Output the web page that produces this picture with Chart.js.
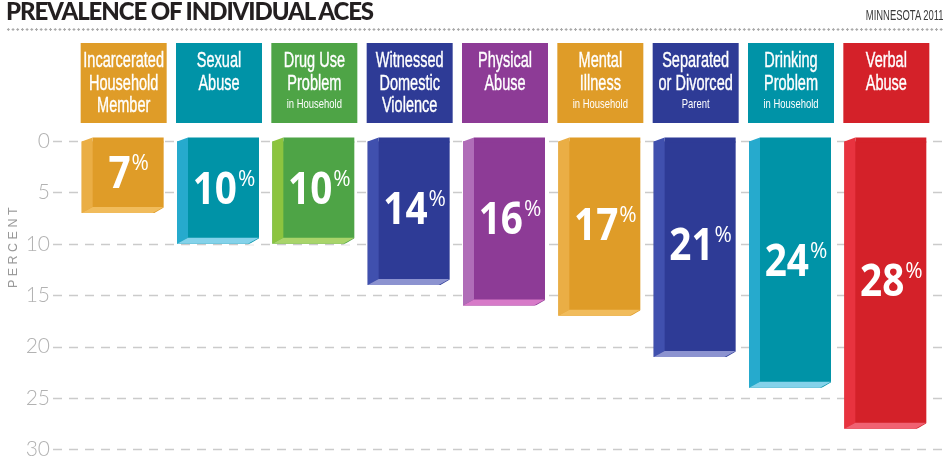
<!DOCTYPE html>
<html>
<head>
<meta charset="utf-8">
<script src="https://cdn.jsdelivr.net/npm/chart.js@4"></script>
<style>
  html, body { margin: 0; padding: 0; background: #fff; }
  #wrap { position: relative; width: 943px; height: 462px; overflow: hidden; }
  #chart { position: absolute; left: 0; top: 0; }
  .title { position: absolute; left: 6px; top: -4px; font: 900 24px Lato, sans-serif; color: #231f20; letter-spacing: -1.1px; white-space: nowrap; }
  .place { position: absolute; right: -1px; top: 7px; font: 14.5px "Liberation Sans", sans-serif; color: #3a3a3a; transform: scaleX(0.65); transform-origin: right top; white-space: nowrap; }
  .dots { position: absolute; left: 6px; right: 0; top: 28px; height: 3px; background-image: radial-gradient(circle, #a9a9a9 1px, transparent 1.4px); background-size: 4.7px 3px; }
  .ytitle { position: absolute; left: -37px; top: 239px; width: 100px; text-align: center; font: 12.5px "Liberation Sans", sans-serif; color: #999; letter-spacing: 3.5px; transform: rotate(-90deg); white-space: nowrap; }
</style>
</head>
<body>
<div id="wrap">
  <canvas id="chart" width="943" height="462"></canvas>
  <div class="title">PREVALENCE OF INDIVIDUAL ACES</div>
  <div class="place">MINNESOTA 2011</div>
  <div class="dots"></div>
  <div class="ytitle">PERCENT</div>
</div>
<script>
'use strict';

// カテゴリ（見出しの行ごと）
var categories = [
  ["Incarcerated", "Household", "Member"],
  ["Sexual", "Abuse"],
  ["Drug Use", "Problem"],
  ["Witnessed", "Domestic", "Violence"],
  ["Physical", "Abuse"],
  ["Mental", "Illness"],
  ["Separated", "or Divorced"],
  ["Drinking", "Problem"],
  ["Verbal", "Abuse"]
];
var categoryNotes = ["", "", "in Household", "", "", "in Household", "Parent", "in Household", ""];
var percents = [7, 10, 10, 14, 16, 17, 21, 24, 28];
var percentTicks = [0, 5, 10, 15, 20, 25, 30];

// 色
var barColors  = ["#df9c28", "#0093a7", "#4ea446", "#2e3b96", "#8d3b96", "#df9c28", "#2e3b96", "#0093a7", "#d42129"];
var sideColors = ["#eaae45", "#26aacd", "#8cc43f", "#4050ae", "#b06db8", "#eaae45", "#4050ae", "#26aacd", "#e8333f"];
var slabColors = ["#f1bc5c", "#84d2ea", "#a9d46a", "#8c93d0", "#d77ac8", "#f1bc5c", "#8c93d0", "#84d2ea", "#f06272"];

function squeezeText(ctx, text, x, y, sx) {
  ctx.save();
  ctx.translate(x, y);
  ctx.scale(sx, 1);
  ctx.fillText(text, 0, 0);
  ctx.restore();
}

// 破線の目盛り線（y軸の目盛りから）
var dashedGrid = {
  id: "dashedGrid",
  beforeDatasetsDraw: function (chart) {
    var ctx = chart.ctx;
    var yScale = chart.scales.y;
    ctx.save();
    ctx.strokeStyle = "#cbcbcb";
    ctx.lineWidth = 1.5;
    ctx.setLineDash([9, 7]);
    yScale.ticks.forEach(function (t) {
      var y = Math.round(yScale.getPixelForValue(t.value)) + 0.5;
      ctx.beginPath();
      ctx.moveTo(chart.chartArea.left - 22, y);
      ctx.lineTo(chart.width, y);
      ctx.stroke();
    });
    ctx.restore();
  }
};

// 見出しボックス
var headerBoxes = {
  id: "headerBoxes",
  afterDraw: function (chart) {
    var ctx = chart.ctx;
    var xScale = chart.scales.x;
    categories.forEach(function (lines, i) {
      var cx = xScale.getPixelForValue(i) + 1;
      ctx.save();
      ctx.fillStyle = barColors[i];
      ctx.fillRect(cx - 43, 43, 86, 80);
      ctx.fillStyle = "#fff";
      ctx.strokeStyle = "#fff";
      ctx.lineWidth = 0.4;
      ctx.textAlign = "center";
      ctx.textBaseline = "alphabetic";
      ctx.font = '22px "Liberation Sans"';
      lines.forEach(function (line, j) {
        ctx.save();
        ctx.translate(cx, 67 + j * 22.7);
        ctx.scale(0.66, 1);
        ctx.fillText(line, 0, 0);
        ctx.strokeText(line, 0, 0);
        ctx.restore();
      });
      if (categoryNotes[i]) {
        ctx.font = '13.5px "Liberation Sans"';
        squeezeText(ctx, categoryNotes[i], cx, 108, 0.7);
      }
      ctx.restore();
    });
  }
};

// 立体感と数値ラベル
var barDepth = {
  id: "barDepth",
  afterDatasetsDraw: function (chart) {
    var ctx = chart.ctx;
    var meta = chart.getDatasetMeta(0);
    var sx = 11, lift = 4, dy = 6;
    meta.data.forEach(function (bar, i) {
      var left = bar.x - bar.width / 2;
      var right = bar.x + bar.width / 2;
      var top = Math.min(bar.y, bar.base);
      var bottom = Math.max(bar.y, bar.base);
      ctx.save();
      // 右下の角を落とす
      ctx.fillStyle = "#fff";
      ctx.beginPath();
      ctx.moveTo(right + 1, bottom - dy);
      ctx.lineTo(right + 1, bottom + 1);
      ctx.lineTo(right - sx, bottom + 1);
      ctx.closePath();
      ctx.fill();
      // 前面の上端
      ctx.fillStyle = barColors[i];
      ctx.fillRect(left + sx, top - lift, right - left - sx, lift + 1);
      // 側面
      ctx.fillStyle = sideColors[i];
      ctx.beginPath();
      ctx.moveTo(left, top);
      ctx.lineTo(left + sx, top - lift);
      ctx.lineTo(left + sx, bottom - dy);
      ctx.lineTo(left, bottom);
      ctx.closePath();
      ctx.fill();
      // 底面
      ctx.fillStyle = slabColors[i];
      ctx.beginPath();
      ctx.moveTo(left, bottom);
      ctx.lineTo(left + sx, bottom - dy);
      ctx.lineTo(right, bottom - dy);
      ctx.lineTo(right - sx, bottom);
      ctx.closePath();
      ctx.fill();

      // 数値
      var cx = left + sx + (right - left - sx) / 2;
      var cy = (top + bottom) / 2 - 5;
      var num = String(percents[i]);
      ctx.fillStyle = "#fff";
      ctx.textAlign = "left";
      ctx.textBaseline = "alphabetic";
      ctx.font = 'bold 45px "Open Sans"';
      var wn = ctx.measureText(num).width * 0.86;
      ctx.font = '21px "Open Sans"';
      var wp = ctx.measureText("%").width;
      var start = cx - (wn + wp) / 2;
      ctx.font = 'bold 45px "Open Sans"';
      squeezeText(ctx, num, start, cy + 16, 0.86);
      ctx.font = '21px "Open Sans"';
      ctx.fillText("%", start + wn + 1, cy - 2);
      ctx.restore();
    });
  }
};

var ctx = document.getElementById("chart").getContext("2d");

var aceChart = new Chart(ctx, {
  type: "bar",
  data: {
    labels: categories.map(function (l, i) { return l.join(" ") + (categoryNotes[i] ? " " + categoryNotes[i] : ""); }),
    datasets: [
      {
        data: percents,
        backgroundColor: barColors,
        borderWidth: 0,
        barPercentage: 0.86,
        categoryPercentage: 1
      }
    ]
  },
  options: {
    responsive: false,
    animation: false,
    layout: { padding: { top: 141, bottom: 11, right: 10, left: 0 } },
    plugins: {
      legend: { display: false },
      tooltip: { enabled: false }
    },
    scales: {
      x: {
        display: false,
        grid: { display: false }
      },
      y: {
        reverse: true,
        min: 0,
        max: 30,
        afterFit: function (scale) { scale.width = 75; },
        afterBuildTicks: function (scale) {
          scale.ticks = percentTicks.map(function (v) { return { value: v }; });
        },
        ticks: {
          padding: 0,
          color: "#b2b2b2",
          font: { family: "Lato", size: 21, weight: 300 }
        },
        // 線は dashedGrid で描くので透明
        grid: {
          color: "rgba(0,0,0,0)",
          tickColor: "rgba(0,0,0,0)",
          drawTicks: true,
          tickLength: 25
        },
        border: { display: false }
      }
    }
  },
  plugins: [dashedGrid, headerBoxes, barDepth]
});
</script>
</body>
</html>
